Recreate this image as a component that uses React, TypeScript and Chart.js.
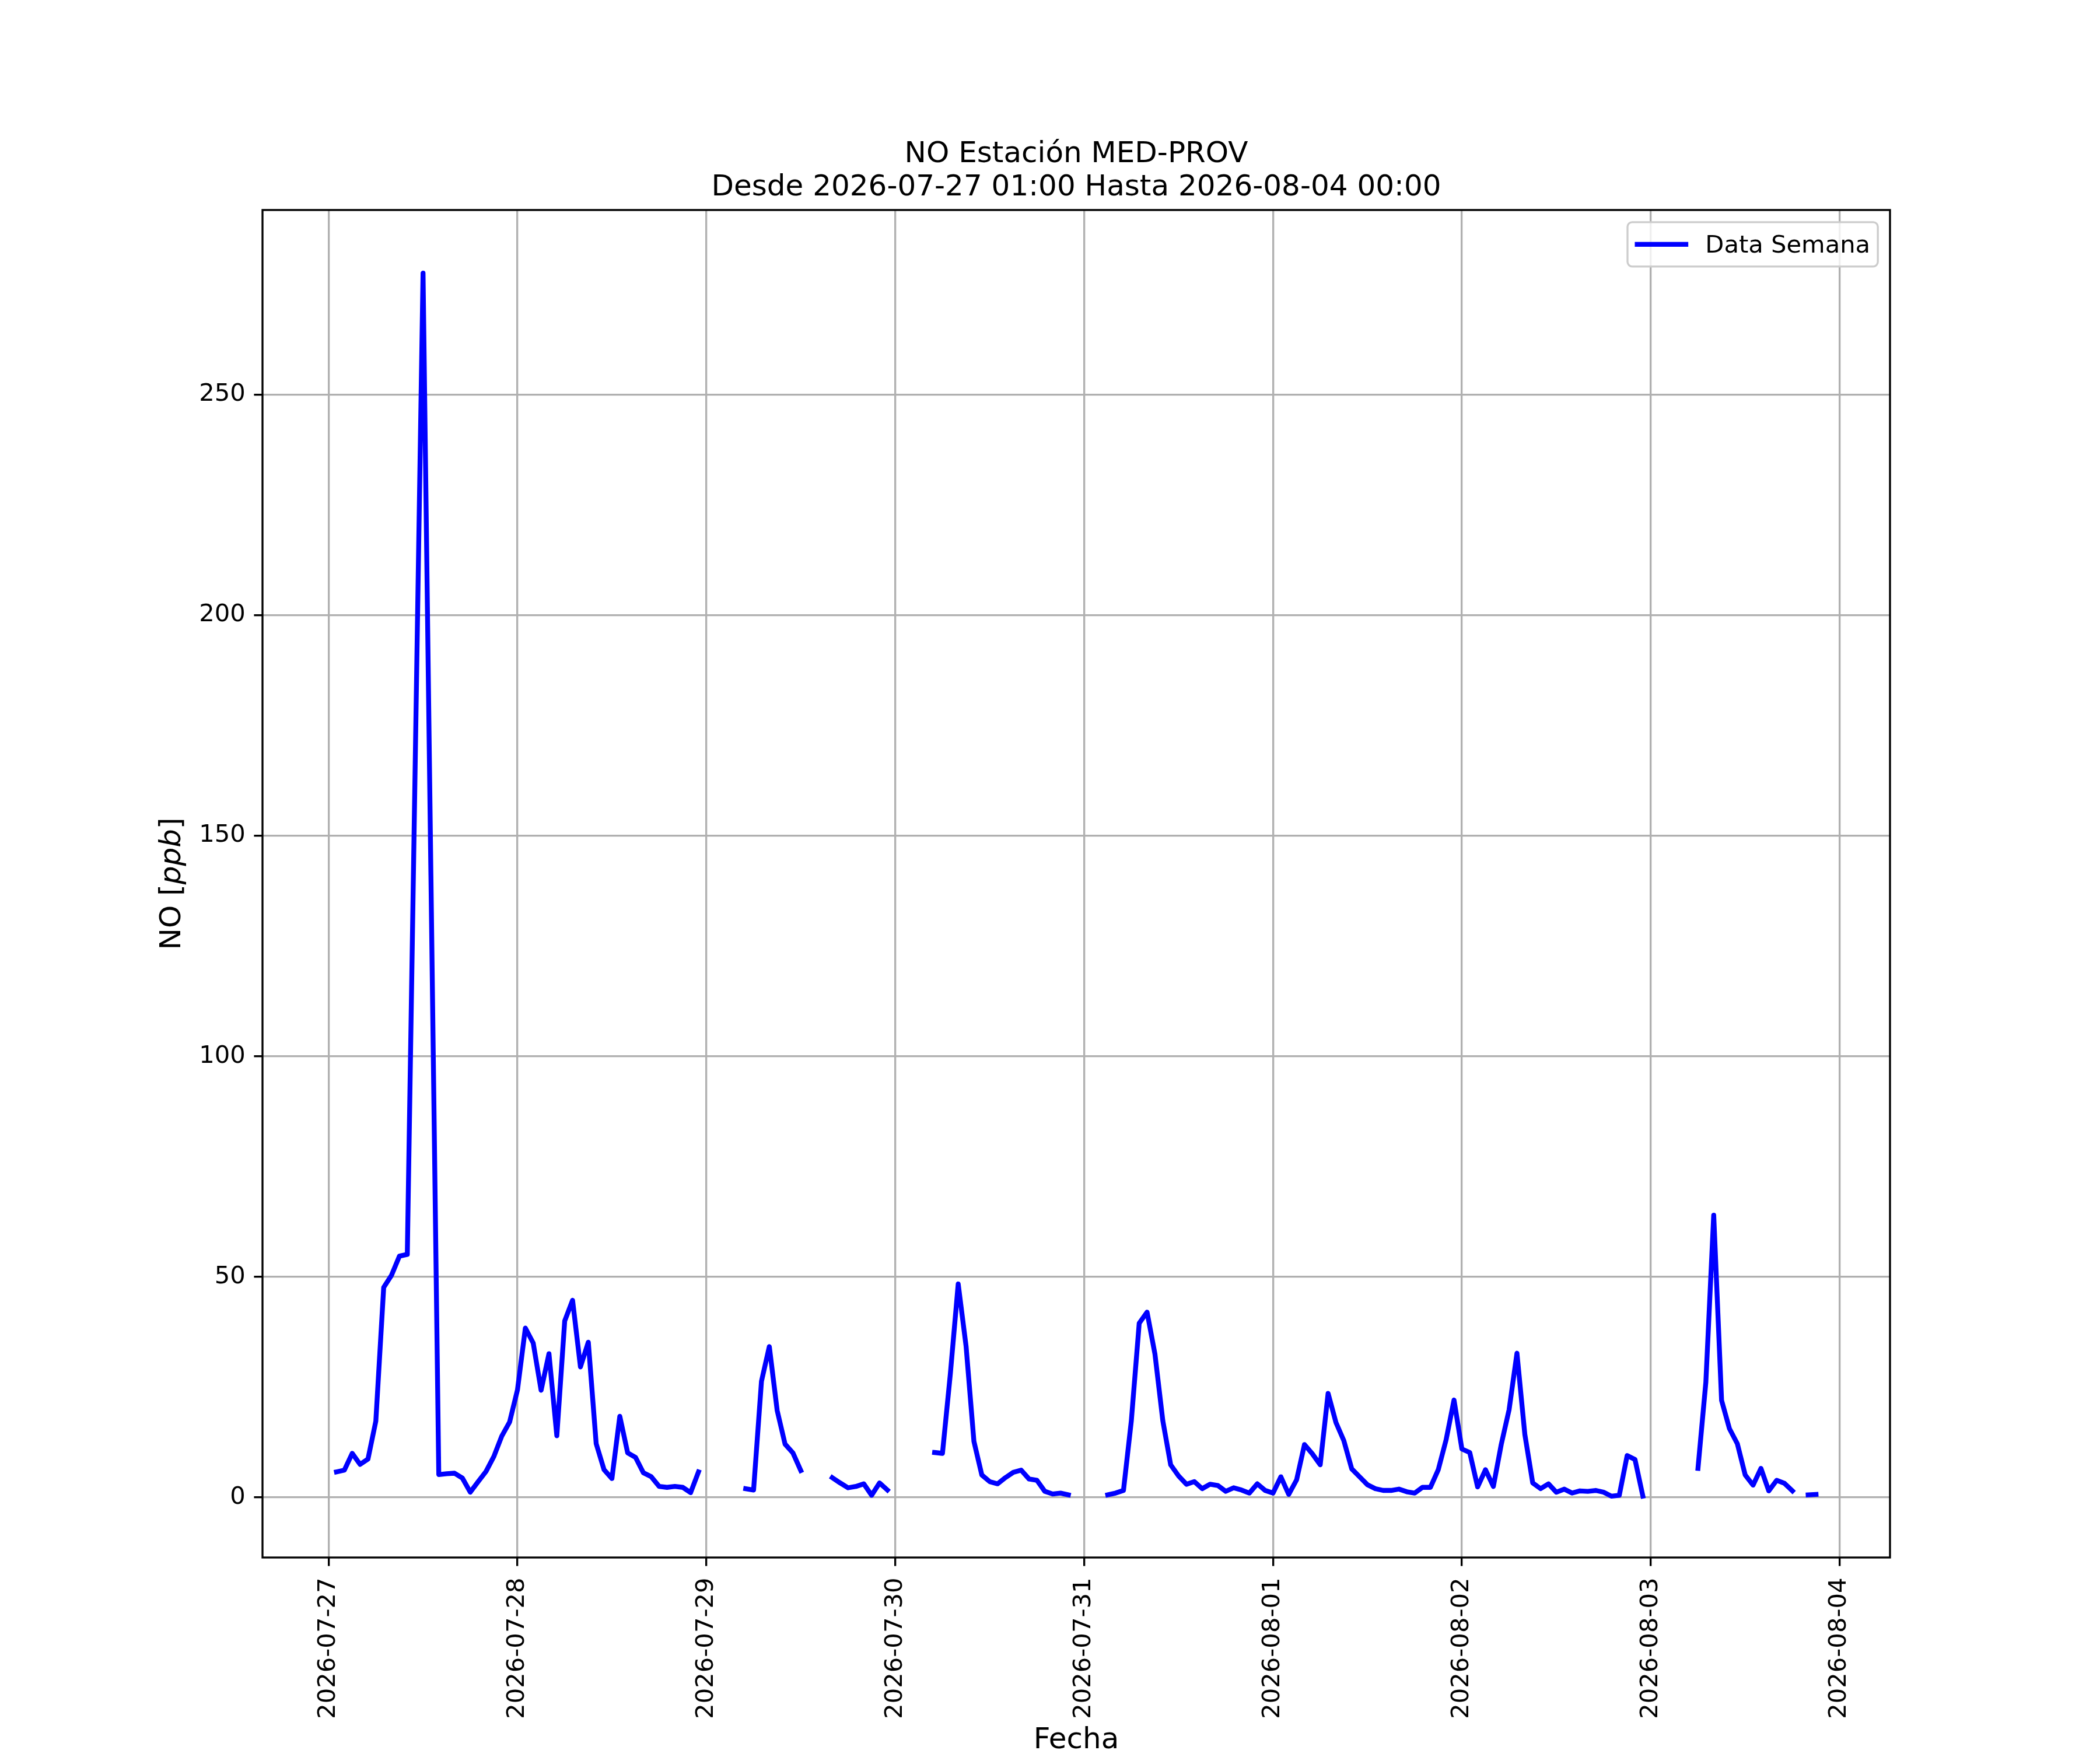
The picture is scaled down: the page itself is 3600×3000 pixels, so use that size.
import { useEffect, useRef } from "react";
import { Chart, registerables } from "chart.js";

Chart.register(...registerables);

// NO hourly values (ppb) from 2026-07-27 01:00, one array per day (24 samples each, null = no data)
const dia27 = [5.8, 6.2, 10.0, 7.5, 8.7, 17.3, 47.6, 50.4, 54.7, 55.1, 166, 277.5, 141, 5.2, 5.4, 5.5, 4.4, 1.2, 3.6, 5.9, 9.3, 13.9, 17.1, 24.4];
const dia28 = [38.4, 35.0, 24.3, 32.6, 14.0, 40.0, 44.7, 29.6, 35.2, 12.2, 6.3, 4.3, 18.4, 10.1, 9.1, 5.6, 4.7, 2.5, 2.3, 2.5, 2.3, 1.1, 5.8, null];
const dia29 = [null, null, null, null, 2.0, 1.7, 26.3, 34.2, 19.7, 12.1, 10.1, 6.1, null, null, null, 4.5, 3.3, 2.2, 2.5, 3.1, 0.5, 3.3, 1.7, null];
const dia30 = [null, null, null, null, 10.2, 10.0, 28, 48.4, 34.3, 12.7, 5.1, 3.6, 3.1, 4.5, 5.7, 6.2, 4.2, 3.9, 1.4, 0.8, 1.0, 0.6, null, null];
const dia31 = [null, null, 0.6, 1.0, 1.6, 17.4, 39.5, 42.0, 32.5, 17.4, 7.4, 4.9, 3.0, 3.6, 2.0, 3.0, 2.7, 1.4, 2.2, 1.7, 1.0, 3.1, 1.6, 1.0];
const dia01 = [4.7, 0.7, 4.0, 12.0, 9.9, 7.4, 23.6, 17.0, 12.9, 6.5, 4.7, 2.9, 2.0, 1.6, 1.6, 1.9, 1.3, 1.0, 2.3, 2.3, 6.3, 13.1, 22.1, 11.0];
const dia02 = [10.2, 2.4, 6.3, 2.5, 12.0, 19.9, 32.7, 14.3, 3.3, 2.0, 3.1, 1.2, 1.9, 1.0, 1.5, 1.4, 1.6, 1.2, 0.3, 0.5, 9.5, 8.6, 0.3, null];
const dia03 = [null, null, null, null, null, 6.6, 26.1, 64.0, 22.0, 15.6, 12.2, 5.1, 2.8, 6.6, 1.5, 3.9, 3.2, 1.5, null, 0.6, 0.7, null, null, null];

const valores: (number | null)[] = [...dia27, ...dia28, ...dia29, ...dia30, ...dia31, ...dia01, ...dia02, ...dia03];

// x axis in hours since 2026-07-27 00:00
const diasTicks = [0, 24, 48, 72, 96, 120, 144, 168, 192];
const diasLabels = [
  "2026-07-27", "2026-07-28", "2026-07-29", "2026-07-30", "2026-07-31",
  "2026-08-01", "2026-08-02", "2026-08-03", "2026-08-04",
];
const yTicks = [0, 50, 100, 150, 200, 250];

const tituloLineas = ["NO Estación MED-PROV", "Desde 2026-07-27 01:00 Hasta 2026-08-04 00:00"];
const leyenda = "Data Semana";

const FONT = '"DejaVu Sans", "Liberation Sans", sans-serif';
const PT = 300 / 72; // matplotlib points at 300 dpi

const decoraciones = {
  id: "decoraciones",
  afterDraw(chart: any) {
    const { ctx, chartArea: a } = chart;
    ctx.save();

    // marco (spines)
    ctx.strokeStyle = "#000";
    ctx.lineWidth = 0.8 * PT;
    ctx.strokeRect(a.left, a.top, a.right - a.left, a.bottom - a.top);

    // titulo
    ctx.fillStyle = "#000";
    ctx.font = `${12 * PT}px ${FONT}`;
    ctx.textAlign = "center";
    ctx.textBaseline = "alphabetic";
    const cx = (a.left + a.right) / 2;
    ctx.fillText(tituloLineas[0], cx, 278);
    ctx.fillText(tituloLineas[1], cx, 335);

    // etiqueta eje x
    ctx.fillText("Fecha", cx, 2997);

    // etiqueta eje y: NO [ppb] con ppb en cursiva
    const cy = (a.top + a.bottom) / 2;
    ctx.translate(296, cy);
    ctx.rotate(-Math.PI / 2);
    ctx.textAlign = "left";
    ctx.textBaseline = "middle";
    const reg = `${12 * PT}px ${FONT}`;
    const ita = `italic ${12 * PT}px ${FONT}`;
    const partes = [
      { t: "NO [", f: reg },
      { t: "ppb", f: ita },
      { t: "]", f: reg },
    ];
    let total = 0;
    partes.forEach((p) => {
      ctx.font = p.f;
      total += ctx.measureText(p.t).width;
    });
    let px = -total / 2;
    partes.forEach((p) => {
      ctx.font = p.f;
      ctx.fillText(p.t, px, 0);
      px += ctx.measureText(p.t).width;
    });
    ctx.setTransform(1, 0, 0, 1, 0, 0);

    // leyenda
    const fs = 10 * PT;
    const bx = 2790;
    const by = a.top + 0.5 * fs;
    const bw = a.right - 0.5 * fs - bx;
    const bh = 76;
    ctx.beginPath();
    ctx.roundRect(bx, by, bw, bh, 8);
    ctx.fillStyle = "rgba(255,255,255,0.8)";
    ctx.fill();
    ctx.strokeStyle = "#cccccc";
    ctx.lineWidth = 0.8 * PT;
    ctx.stroke();

    const ly = by + bh / 2;
    ctx.beginPath();
    ctx.moveTo(bx + 0.4 * fs, ly);
    ctx.lineTo(bx + 0.4 * fs + 2 * fs, ly);
    ctx.strokeStyle = "blue";
    ctx.lineWidth = 2 * PT;
    ctx.lineCap = "square";
    ctx.stroke();

    ctx.fillStyle = "#000";
    ctx.font = `${fs}px ${FONT}`;
    ctx.textAlign = "left";
    ctx.textBaseline = "alphabetic";
    ctx.fillText(leyenda, bx + 0.4 * fs + 2.8 * fs, ly + 14);

    ctx.restore();
  },
};

function GraficoNO() {
  const chartRef = useRef<HTMLCanvasElement>(null);
  const chartInstance = useRef<Chart | null>(null);

  useEffect(() => {
    if (!chartRef.current) return;
    const puntos = valores.map((v, i) => ({ x: i + 1, y: v }));

    const tickFont = { family: FONT, size: 10 * PT };

    const config: any = {
      type: "line",
      data: {
        datasets: [
          {
            label: leyenda,
            data: puntos,
            borderColor: "blue",
            backgroundColor: "blue",
            borderWidth: 2 * PT,
            borderCapStyle: "square",
            borderJoinStyle: "round",
            pointRadius: 0,
            tension: 0,
            spanGaps: false,
            fill: false,
          },
        ],
      },
      options: {
        responsive: false,
        devicePixelRatio: 1,
        animation: false,
        events: [],
        layout: { padding: { top: 360, right: 360, left: 0, bottom: 0 } },
        plugins: {
          legend: { display: false },
          title: { display: false },
          tooltip: { enabled: false },
        },
        scales: {
          x: {
            type: "linear",
            min: -8.4,
            max: 198.4,
            afterBuildTicks: (axis: any) => {
              axis.ticks = diasTicks.map((v) => ({ value: v }));
            },
            afterFit: (axis: any) => {
              axis.height = 330;
            },
            ticks: {
              autoSkip: false,
              minRotation: 90,
              maxRotation: 90,
              padding: 20,
              color: "#000",
              font: tickFont,
              callback: (v: any) => diasLabels[diasTicks.indexOf(Number(v))] ?? "",
            },
            grid: {
              color: "#b0b0b0",
              lineWidth: 0.8 * PT,
              tickLength: 3.5 * PT,
              tickColor: "#000",
              tickWidth: 0.8 * PT,
            },
            border: { display: false },
          },
          y: {
            type: "linear",
            min: -13.6,
            max: 291.8,
            afterBuildTicks: (axis: any) => {
              axis.ticks = yTicks.map((v) => ({ value: v }));
            },
            afterFit: (axis: any) => {
              axis.width = 450;
            },
            ticks: {
              padding: 3.5 * PT,
              color: "#000",
              font: tickFont,
              callback: (v: any) => String(v),
            },
            grid: {
              color: "#b0b0b0",
              lineWidth: 0.8 * PT,
              tickLength: 3.5 * PT,
              tickColor: "#000",
              tickWidth: 0.8 * PT,
            },
            border: { display: false },
          },
        },
      },
      plugins: [decoraciones],
    };

    if (chartInstance.current) {
      chartInstance.current.destroy();
    }
    const ctx = chartRef.current.getContext("2d");
    if (ctx) {
      chartInstance.current = new Chart(ctx, config);
    }

    return () => {
      if (chartInstance.current) {
        chartInstance.current.destroy();
        chartInstance.current = null;
      }
    };
  }, []);

  return <canvas ref={chartRef} width={3600} height={3000} style={{ display: "block" }} />;
}

export default function App() {
  return (
    <div style={{ position: "fixed", left: 0, top: 0, width: 3600, height: 3000, background: "#fff" }}>
      <GraficoNO />
    </div>
  );
}
